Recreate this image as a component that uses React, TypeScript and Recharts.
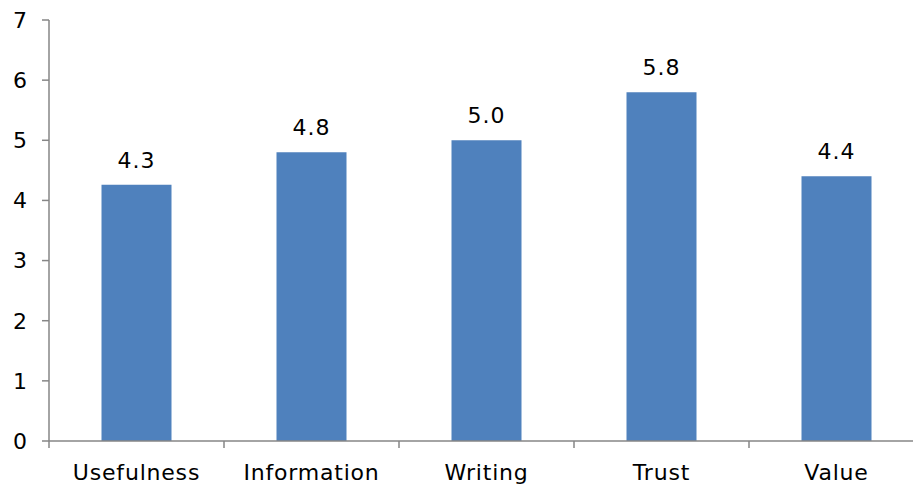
import React from "react";
import { BarChart, Bar, XAxis, YAxis, LabelList } from "recharts";

const categories = ["Usefulness", "Information", "Writing", "Trust", "Value"];
const scores = [4.26, 4.8, 5.0, 5.8, 4.4];
const yTicks = [0, 1, 2, 3, 4, 5, 6, 7];

const data = categories.map((name, i) => ({ name, score: scores[i] }));

const axisColor = "#868686";
const font = "'DejaVu Sans', Verdana, sans-serif";

// category label plus the tick marks on the band edges (Excel style)
function EdgeTick(props: any) {
  const { x, y, payload, index, visibleTicksCount } = props;
  const half = payload.offset || 0;
  const last = index === visibleTicksCount - 1;
  return (
    <g>
      <line x1={x - half} x2={x - half} y1={y} y2={y + 7} stroke={axisColor} strokeWidth={1.5} />
      {last && <line x1={x + half} x2={x + half} y1={y} y2={y + 7} stroke={axisColor} strokeWidth={1.5} />}
      <text
        x={x}
        y={y + 23}
        dy="0.71em"
        textAnchor="middle"
        fill="#000"
        fontSize={22}
        fontFamily={font}
        letterSpacing={0.8}
      >
        {payload.value}
      </text>
    </g>
  );
}

export default function App() {
  return (
    <div
      style={{
        position: "absolute",
        left: 0,
        top: 0,
        width: 913,
        height: 485,
        overflow: "hidden",
        background: "#fff",
      }}
    >
      <BarChart
        width={930}
        height={485}
        data={data}
        margin={{ top: 20, right: 6, left: 0, bottom: 0 }}
        barCategoryGap="30%"
        style={{ fontFamily: font }}
      >
        <XAxis
          dataKey="name"
          height={44}
          axisLine={{ stroke: axisColor, strokeWidth: 1.5 }}
          tickLine={false}
          tickSize={0}
          tickMargin={0}
          interval={0}
          tick={<EdgeTick />}
        />
        <YAxis
          domain={[0, 7]}
          ticks={yTicks}
          width={49}
          tickSize={7}
          tickMargin={15}
          stroke={axisColor}
          axisLine={{ stroke: axisColor, strokeWidth: 1.5 }}
          tickLine={{ stroke: axisColor, strokeWidth: 1.5 }}
          tick={{ fill: "#000", fontSize: 22, fontFamily: font }}
        />
        <Bar dataKey="score" fill="#4F81BD" isAnimationActive={false}>
          <LabelList
            dataKey="score"
            position="top"
            offset={17}
            formatter={(v: any) => Number(v).toFixed(1)}
            style={{ fill: "#000", fontSize: 22, fontFamily: font, letterSpacing: 1 }}
          />
        </Bar>
      </BarChart>
    </div>
  );
}
